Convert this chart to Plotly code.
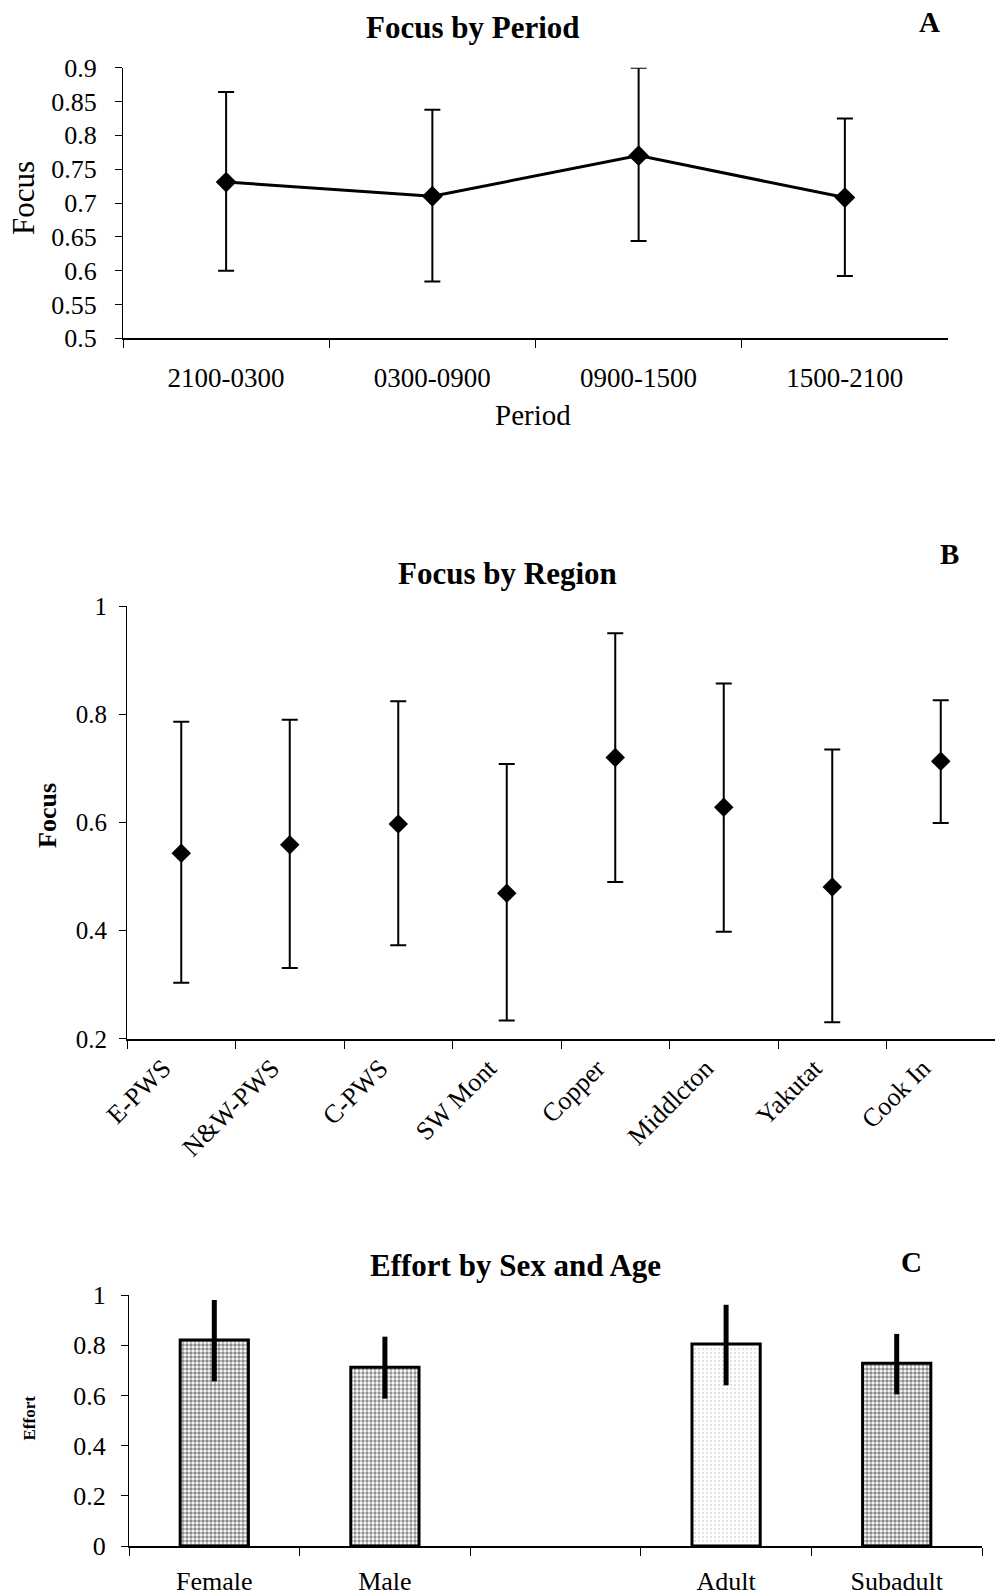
import plotly.graph_objects as go

W, H = 995, 1595
FONT = "Liberation Serif, Times New Roman, serif"

# ---------------- Data ----------------
# Panel A: Focus by Period
periods = ["2100-0300", "0300-0900", "0900-1500", "1500-2100"]
period_focus = [0.731, 0.710, 0.770, 0.708]
period_err_plus = [0.133, 0.128, 0.130, 0.117]
period_err_minus = [0.131, 0.126, 0.126, 0.116]
period_yticks = [0.5, 0.55, 0.6, 0.65, 0.7, 0.75, 0.8, 0.85, 0.9]
period_yticklabels = ["0.5", "0.55", "0.6", "0.65", "0.7", "0.75", "0.8", "0.85", "0.9"]

# Panel B: Focus by Region
regions = ["E-PWS", "N&W-PWS", "C-PWS", "SW Mont", "Copper", "Middlcton", "Yakutat", "Cook In"]
region_focus = [0.543, 0.559, 0.597, 0.469, 0.720, 0.628, 0.481, 0.713]
region_err_plus = [0.243, 0.231, 0.227, 0.239, 0.230, 0.229, 0.254, 0.113]
region_err_minus = [0.239, 0.228, 0.224, 0.235, 0.230, 0.230, 0.250, 0.114]
region_yticks = [0.2, 0.4, 0.6, 0.8, 1.0]
region_yticklabels = ["0.2", "0.4", "0.6", "0.8", "1"]

# Panel C: Effort by Sex and Age
groups = ["Female", "Male", " ", "Adult", "Subadult"]
effort = [0.821, 0.712, None, 0.805, 0.728]
effort_err_plus = [0.159, 0.122, None, 0.156, 0.117]
effort_err_minus = [0.165, 0.125, None, 0.165, 0.124]
effort_yticks = [0, 0.2, 0.4, 0.6, 0.8, 1.0]
effort_yticklabels = ["0", "0.2", "0.4", "0.6", "0.8", "1"]
bar_shades = ["#1a1a1a", "#222222", "#ffffff", "#707070", "#1a1a1a"]
bar_solidity = [0.62, 0.52, 0.0, 0.12, 0.62]


def px(x):
    return x / W


def py(y):
    return 1 - y / H


fig = go.Figure()

# Panel A
fig.add_trace(go.Scatter(
    x=periods, y=period_focus, mode="lines+markers",
    line=dict(color="black", width=3),
    marker=dict(symbol="diamond", size=16, color="black"),
    error_y=dict(type="data", array=period_err_plus, arrayminus=period_err_minus,
                 color="black", thickness=2, width=8),
    xaxis="x", yaxis="y", showlegend=False))

# Panel B
fig.add_trace(go.Scatter(
    x=regions, y=region_focus, mode="markers",
    marker=dict(symbol="diamond", size=15, color="black"),
    error_y=dict(type="data", array=region_err_plus, arrayminus=region_err_minus,
                 color="black", thickness=2, width=8),
    xaxis="x2", yaxis="y2", showlegend=False))

# Panel C
fig.add_trace(go.Bar(
    x=groups, y=effort,
    marker=dict(
        color="white",
        line=dict(color="black", width=3),
        pattern=dict(shape=".", fgcolor=bar_shades, bgcolor="white",
                     size=4, solidity=bar_solidity, fillmode="overlay"),
    ),
    error_y=dict(type="data", array=effort_err_plus, arrayminus=effort_err_minus,
                 color="black", thickness=5, width=0),
    xaxis="x3", yaxis="y3", showlegend=False))


def tf(size):
    return dict(family=FONT, size=size, color="black")


common_x = dict(type="category", showline=True, linecolor="black", linewidth=1.5,
                ticks="outside", tickson="boundaries", ticklen=8, tickcolor="black",
                showgrid=False, zeroline=False, automargin=False)
common_y = dict(showline=True, linecolor="black", linewidth=1.2, ticks="outside",
                ticklen=7, tickcolor="black", showgrid=False, zeroline=False,
                automargin=False)

fig.update_layout(
    width=W, height=H,
    margin=dict(l=0, r=0, t=0, b=0, pad=0, autoexpand=False),
    paper_bgcolor="white", plot_bgcolor="white",
    bargap=0.6,
    xaxis=dict(domain=[px(123), px(948)], anchor="y", range=[-0.5, 3.5],
               categoryorder="array", categoryarray=periods,
               tickfont=tf(27), ticklabelstandoff=15, **common_x),
    yaxis=dict(domain=[py(338.3), py(67.7)], anchor="x", range=[0.5, 0.9],
               tickvals=period_yticks, ticktext=period_yticklabels,
               tickfont=tf(26), ticklabelstandoff=13, **common_y),
    xaxis2=dict(domain=[px(127), px(995)], anchor="y2", range=[-0.5, 7.5],
                categoryorder="array", categoryarray=regions,
                tickangle=-45, tickfont=tf(26), ticklabelstandoff=2,
                ticklabelshift=-18, **common_x),
    yaxis2=dict(domain=[py(1038.9), py(606.1)], anchor="x2", range=[0.2, 1.0],
                tickvals=region_yticks, ticktext=region_yticklabels,
                tickfont=tf(25), ticklabelstandoff=7, **common_y),
    xaxis3=dict(domain=[px(129), px(982)], anchor="y3", range=[-0.5, 4.5],
                categoryorder="array", categoryarray=groups,
                tickfont=tf(26), ticklabelstandoff=11, **common_x),
    yaxis3=dict(domain=[py(1546), py(1295)], anchor="x3", range=[0, 1.0],
                tickvals=effort_yticks, ticktext=effort_yticklabels,
                tickfont=tf(26), ticklabelstandoff=10, **common_y),
)


def ann(text, x, y, size, bold=False, angle=0):
    fig.add_annotation(
        text=f"<b>{text}</b>" if bold else text,
        x=px(x), y=py(y), xref="paper", yref="paper",
        xanchor="center", yanchor="middle", showarrow=False, textangle=angle,
        font=tf(size))


ann("Focus by Period", 473, 27, 31, bold=True)
ann("A", 929, 22, 29, bold=True)
ann("Period", 533, 415, 29)
ann("Focus", 23, 198, 31, angle=-90)

ann("Focus by Region", 508, 573, 31, bold=True)
ann("B", 949, 554, 29, bold=True)
ann("Focus", 47, 816, 26, bold=True, angle=-90)

ann("Effort by Sex and Age", 515, 1265, 31, bold=True)
ann("C", 911, 1262, 29, bold=True)
ann("Effort", 28.5, 1418, 17, bold=True, angle=-90)

fig.write_html("out.html")
